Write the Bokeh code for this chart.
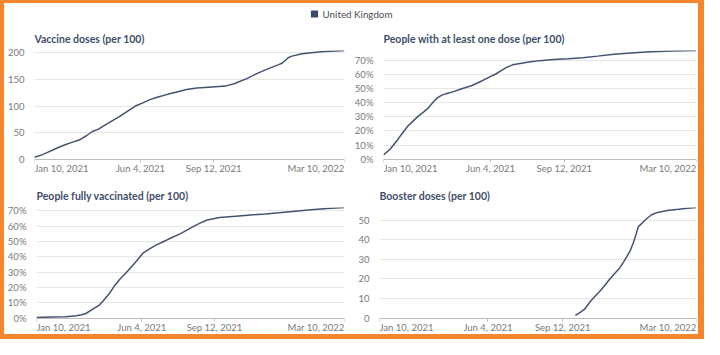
import datetime as dt
from bokeh.plotting import figure
from bokeh.models import (Range1d, FixedTicker, PrintfTickFormatter, CustomJSTickFormatter,
                          Legend, LegendItem, ColumnDataSource)
from bokeh.core.properties import value
from bokeh.layouts import column, row
from bokeh.embed import file_html
from bokeh.resources import INLINE

# ---------------- data ----------------
COUNTRY = "United Kingdom"
X_START, X_END = "2021-01-10", "2022-03-10"
TICK_DATES = ["2021-01-10", "2021-06-04", "2021-09-12", "2022-03-10"]
TICK_LABELS = ["Jan 10, 2021", "Jun 4, 2021", "Sep 12, 2021", "Mar 10, 2022"]
TICK_ALIGN = ["left", "center", "center", "right"]

TITLES = ["Vaccine doses (per 100)", "People with at least one dose (per 100)",
          "People fully vaccinated (per 100)", "Booster doses (per 100)"]

doses_dates = ["2021-01-10", "2021-01-20", "2021-01-31", "2021-02-10", "2021-02-20", "2021-03-01",
               "2021-03-10", "2021-03-15", "2021-03-22", "2021-03-30", "2021-04-07", "2021-04-14",
               "2021-04-25", "2021-05-06", "2021-05-17", "2021-05-28", "2021-06-07", "2021-06-17",
               "2021-06-28", "2021-07-11", "2021-07-25", "2021-08-06", "2021-08-20", "2021-09-10",
               "2021-09-28", "2021-10-10", "2021-10-28", "2021-11-10", "2021-11-25", "2021-12-10",
               "2021-12-15", "2021-12-23", "2021-12-28", "2022-01-11", "2022-01-27", "2022-02-10",
               "2022-02-25", "2022-03-10"]
doses_values = [3.5, 8, 14.5, 21, 26.5, 31, 35, 38, 44, 52, 56, 62, 71, 80, 90, 100, 106, 112,
                117, 122, 127, 131, 134, 136, 137.5, 142, 152, 161, 170, 178, 181, 191, 194,
                198.5, 201, 202.5, 203.8, 204.6]

first_dates = ["2021-01-10", "2021-01-19", "2021-01-28", "2021-02-04", "2021-02-12", "2021-02-19",
               "2021-02-25", "2021-03-03", "2021-03-10", "2021-03-15", "2021-03-19", "2021-03-24",
               "2021-03-30", "2021-04-07", "2021-04-14", "2021-04-25", "2021-05-10", "2021-05-21",
               "2021-06-01", "2021-06-11", "2021-06-19", "2021-06-27", "2021-07-04", "2021-07-14",
               "2021-07-26", "2021-08-10", "2021-08-28", "2021-09-17", "2021-10-07", "2021-10-27",
               "2021-11-18", "2021-12-11", "2022-01-01", "2022-02-04", "2022-03-10"]
first_values = [3, 7, 13, 18, 23.5, 27, 30, 32.5, 35.5, 38.5, 41, 43.5, 45.5, 46.8, 47.8, 49.8,
                52.3, 55, 57.9, 60.5, 63, 65.5, 67, 68, 69, 70, 70.8, 71.3, 72, 73.2, 74.6,
                75.4, 76.1, 76.8, 77.2]

full_dates = ["2021-01-10", "2021-01-30", "2021-02-19", "2021-03-06", "2021-03-13", "2021-03-19",
              "2021-03-29", "2021-04-06", "2021-04-14", "2021-04-21", "2021-04-28", "2021-05-05",
              "2021-05-12", "2021-05-19", "2021-05-28", "2021-06-06", "2021-06-14", "2021-06-24",
              "2021-07-02", "2021-07-11", "2021-07-28", "2021-08-13", "2021-08-23", "2021-09-02",
              "2021-09-19", "2021-10-07", "2021-10-28", "2021-11-21", "2021-12-10", "2022-01-01",
              "2022-01-23", "2022-02-14", "2022-03-10"]
full_values = [0.4, 0.7, 0.9, 1.5, 2.2, 3.0, 6, 8.3, 12.5, 16.5, 21.5, 25.5, 29, 32.5, 37.5,
               42.6, 45, 47.8, 49.5, 51.6, 55.3, 59.5, 62, 64, 65.6, 66.4, 67.2, 68, 68.8,
               69.8, 70.8, 71.6, 72.2]

booster_dates = ["2021-09-29", "2021-10-05", "2021-10-11", "2021-10-19", "2021-10-25", "2021-11-01",
                 "2021-11-07", "2021-11-13", "2021-11-20", "2021-11-27", "2021-12-03", "2021-12-07",
                 "2021-12-12", "2021-12-15", "2021-12-19", "2021-12-22", "2021-12-24", "2021-12-27",
                 "2021-12-30", "2022-01-03", "2022-01-09", "2022-01-17", "2022-01-30", "2022-02-14",
                 "2022-02-26", "2022-03-10"]
booster_values = [1.4, 2.8, 4.4, 8.5, 11, 13.8, 16.5, 19.5, 22.5, 25.5, 29, 31.5, 35, 38, 42.5,
                  46.5, 47.4, 48.4, 49.6, 51, 52.8, 54, 55, 55.6, 56.1, 56.5]

YTICKS_DOSES = [0, 50, 100, 150, 200]
YTICKS_PCT = [0, 10, 20, 30, 40, 50, 60, 70]
YTICKS_BOOST = [0, 10, 20, 30, 40, 50]

# ---------------- style ----------------
ORANGE = "#F5862E"
LINE_COLOR = "#43536f"
KEY_COLOR = "#3c4c68"
TITLE_COLOR = "#3f4e6a"
LABEL_COLOR = "#7a7a7a"
GRID_COLOR = "#e6e6e6"
AXIS_COLOR = "#bdbdbd"
FONT = "Lato"

EPOCH = dt.datetime(1970, 1, 1)


def to_dt(s):
    return dt.datetime.strptime(s, "%Y-%m-%d")


def to_ms(s):
    return (to_dt(s) - EPOCH).total_seconds() * 1000.0


def make_panel(title, dates, values, yticks, pct, width, height, bl, br, bt, bb,
               frame_h, zero_px):
    ymax = max(values)
    ymin = -ymax * (frame_h - zero_px) / zero_px   # room under the axis for tick labels
    p = figure(width=width, height=height, x_axis_type="datetime",
               x_range=Range1d(to_dt(X_START), to_dt(X_END)),
               y_range=Range1d(ymin, ymax),
               output_backend="svg", toolbar_location=None,
               min_border_left=bl, min_border_right=br, min_border_top=bt, min_border_bottom=bb)
    p.outline_line_color = None
    p.background_fill_color = "white"
    p.border_fill_color = "white"

    p.title.text = title
    p.title.align = "left"
    p.title.text_font = FONT
    p.title.text_font_style = "bold"
    p.title.text_font_size = "10.5px"
    p.title.text_color = TITLE_COLOR
    p.title.standoff = 12

    src = ColumnDataSource(dict(x=[to_dt(d) for d in dates], y=values))
    p.line("x", "y", source=src, line_color=LINE_COLOR, line_width=1.5)

    # y axis
    ya = p.yaxis[0]
    ya.ticker = FixedTicker(ticks=yticks)
    if pct:
        ya.formatter = PrintfTickFormatter(format="%d%%")
    ya.axis_line_color = None
    ya.major_tick_line_color = None
    ya.minor_tick_line_color = None
    ya.major_label_standoff = 4
    ya.major_label_text_font = FONT
    ya.major_label_text_font_size = "9.5px"
    ya.major_label_text_color = LABEL_COLOR

    # x axis sits at y = 0 inside the frame; its labels are drawn as text below
    xa = p.xaxis[0]
    xa.fixed_location = 0
    xa.ticker = FixedTicker(ticks=[to_ms(d) for d in TICK_DATES])
    xa.formatter = CustomJSTickFormatter(code="return ''")
    xa.axis_line_color = AXIS_COLOR
    xa.major_tick_line_color = AXIS_COLOR
    xa.major_tick_in = 0
    xa.major_tick_out = 3
    xa.minor_tick_line_color = None
    xa.major_label_text_font_size = "1px"

    p.xgrid.grid_line_color = None
    p.ygrid.grid_line_color = GRID_COLOR
    p.ygrid.ticker = FixedTicker(ticks=yticks)

    for al in ("left", "center", "right"):
        idx = [i for i, a in enumerate(TICK_ALIGN) if a == al]
        lsrc = ColumnDataSource(dict(x=[to_ms(TICK_DATES[i]) for i in idx],
                                     y=[ymin] * len(idx),
                                     t=[TICK_LABELS[i] for i in idx]))
        p.text("x", "y", text="t", source=lsrc, text_align=al, text_baseline="bottom",
               text_font=value(FONT), text_font_size=value("9.5px"), text_color=LABEL_COLOR)
    return p


INNER_W = 694
COL_W = 347

# legend strip
lf = figure(width=INNER_W, height=21, x_range=Range1d(0, 1), y_range=Range1d(0, 1),
            output_backend="svg", toolbar_location=None, min_border=0)
lf.axis.visible = False
lf.grid.visible = False
lf.outline_line_color = None
key = lf.quad(left=[5], right=[6], top=[6], bottom=[5], fill_color=KEY_COLOR, line_color=None)
legend = Legend(items=[LegendItem(label=COUNTRY, renderers=[key])], location="center",
                orientation="horizontal", border_line_color=None, background_fill_alpha=0,
                label_text_font=FONT, label_text_font_size="9.8px", label_text_color="#4d4d4d",
                glyph_width=9, glyph_height=9, label_standoff=4, label_height=10,
                padding=0, margin=0, spacing=0)
lf.add_layout(legend)

p1 = make_panel(TITLES[0], doses_dates, doses_values, YTICKS_DOSES, False,
                COL_W, 152, 23, 7, 25, 3, 124, 109.5)
p2 = make_panel(TITLES[1], first_dates, first_values, YTICKS_PCT, True,
                COL_W, 152, 28, 2, 25, 3, 124, 109.5)
p3 = make_panel(TITLES[2], full_dates, full_values, YTICKS_PCT, True,
                COL_W, 158, 23, 7, 31, 2, 125, 110.6)
p4 = make_panel(TITLES[3], booster_dates, booster_values, YTICKS_BOOST, False,
                COL_W, 158, 28, 2, 31, 2, 125, 110.6)

inner = column(lf, row(p1, p2), row(p3, p4), styles={"background-color": "white"})
layout = column(inner, styles={"background-color": ORANGE, "padding": "3px 6px 5px 4px"})

open("out.html", "w").write(file_html(layout, INLINE))
